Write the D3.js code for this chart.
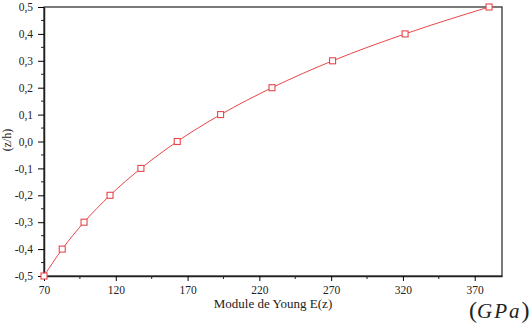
<!DOCTYPE html>
<html>
<head>
<meta charset="utf-8">
<script src="https://cdn.jsdelivr.net/npm/d3@7"></script>
<style>
    body { margin: 0; background: #fff; }
    svg text { font-family: 'Liberation Serif', 'Times New Roman', serif !important; fill: #222; }
</style>
</head>
<body>
<script>
// values
const zh = [-0.5, -0.4, -0.3, -0.2, -0.1, 0.0, 0.1, 0.2, 0.3, 0.4, 0.5]
const young = [70, 82.7, 97.9, 116, 137.5, 162.8, 193, 228.8, 271, 321.5, 380]
const xTicks = [70, 120, 170, 220, 270, 320, 370]
const yTicks = [-0.5, -0.4, -0.3, -0.2, -0.1, 0.0, 0.1, 0.2, 0.3, 0.4, 0.5]

const W = 532, H = 329
const margin = { top: 7, right: 30, bottom: 53, left: 44 }
const width = W - margin.left - margin.right
const height = H - margin.top - margin.bottom

const svg = d3.select('body').append('svg')
    .attr('width', W)
    .attr('height', H)

const g = svg.append('g')
    .attr('transform', 'translate(' + margin.left + ',' + margin.top + ')')

const x = d3.scaleLinear().domain([70, 389]).range([0, width])
const y = d3.scaleLinear().domain([-0.5, 0.5]).range([height, 0])

const fmt = d => d3.format('.1f')(d).replace('.', ',').replace('−', '-')

// minor ticks
const xMinor = d3.range(95, 389, 50)
const yMinor = d3.range(-0.45, 0.5, 0.1)

g.append('g')
    .selectAll('line')
    .data(xMinor)
    .enter().append('line')
    .attr('x1', d => x(d)).attr('x2', d => x(d))
    .attr('y1', height).attr('y2', height + 3)
    .attr('stroke', '#222')

g.append('g')
    .selectAll('line')
    .data(yMinor)
    .enter().append('line')
    .attr('x1', -3).attr('x2', 0)
    .attr('y1', d => y(d)).attr('y2', d => y(d))
    .attr('stroke', '#222')

// frame
g.append('rect')
    .attr('width', width).attr('height', height)
    .attr('fill', 'none').attr('stroke', '#222').attr('stroke-width', 1.2)

const xAxis = g.append('g')
    .attr('transform', 'translate(0,' + height + ')')
    .call(d3.axisBottom(x).tickValues(xTicks).tickSize(5).tickPadding(5).tickSizeOuter(0))
xAxis.select('.domain').attr('stroke', '#222').attr('stroke-width', 1.5)
xAxis.selectAll('text').style('font-size', '11.5px')

const yAxis = g.append('g')
    .call(d3.axisLeft(y).tickValues(yTicks).tickFormat(fmt).tickSize(6).tickPadding(5).tickSizeOuter(0))
yAxis.select('.domain').attr('stroke', '#222').attr('stroke-width', 1.5)
yAxis.selectAll('text').style('font-size', '11.5px')

// line and markers
const pts = young.map((e, i) => ({ e: e, z: zh[i] }))

g.append('path')
    .datum(pts)
    .attr('fill', 'none')
    .attr('stroke', '#e8474a')
    .attr('stroke-width', 1)
    .attr('d', d3.line().x(d => x(d.e)).y(d => y(d.z)).curve(d3.curveMonotoneX))

g.selectAll('.pt')
    .data(pts)
    .enter().append('rect')
    .attr('class', 'pt')
    .attr('x', d => x(d.e) - 3)
    .attr('y', d => y(d.z) - 3)
    .attr('width', 6)
    .attr('height', 6)
    .attr('fill', '#fff')
    .attr('stroke', '#e8474a')
    .attr('stroke-width', 1.1)

// labels
svg.append('text')
    .attr('x', 273)
    .attr('y', 308)
    .attr('text-anchor', 'middle')
    .style('font-size', '13px')
    .text('Module de Young E(z)')

svg.append('text')
    .attr('transform', 'translate(11,140) rotate(-90)')
    .attr('text-anchor', 'middle')
    .style('font-size', '12px')
    .text('(z/h)')

const unit = svg.append('text')
    .attr('x', 469)
    .attr('y', 318)
    .style('font-size', '24px')
unit.append('tspan').text('(')
unit.append('tspan').attr('font-style', 'italic').style('font-size', '21px').attr('letter-spacing', 2).text('GPa')
unit.append('tspan').text(')')
</script>
</body>
</html>
